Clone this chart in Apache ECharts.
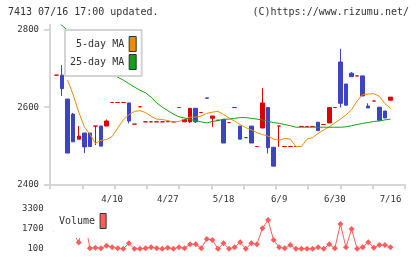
<!DOCTYPE html>
<html>
<head>
<meta charset="utf-8">
<script src="https://cdn.jsdelivr.net/npm/echarts@6/dist/echarts.min.js"></script>
<style>
  html, body { margin: 0; padding: 0; background: #fff; }
  #chart { width: 420px; height: 259px; }
</style>
</head>
<body>
<div id="chart"></div>
<script>
// daily prices, one entry per trading day on screen
const opens = [2683, 2683, 2621, 2582, 2517, 2533, 2533, 2551, 2551, 2551,
  2612, 2612, 2612, 2611, 2556, 2601, 2562, 2562, 2562, 2562,
  2563, 2562, 2599, 2562, 2562, 2597, 2586, 2624, 2571, 2566,
  2568, 2560, 2599, 2551, 2521, 2551, 2498, 2546, 2599, 2496,
  2551, 2498, 2498, 2498, 2550, 2550, 2550, 2561, 2555, 2559,
  2599, 2717, 2660, 2688, 2681, 2681, 2603, 2616, 2600, 2590,
  2618]
const closes = [2683, 2648, 2481, 2510, 2525, 2497, 2498, 2551, 2499, 2564,
  2612, 2612, 2612, 2564, 2556, 2601, 2562, 2562, 2562, 2562,
  2562, 2562, 2599, 2568, 2597, 2562, 2586, 2623, 2577, 2566,
  2507, 2560, 2599, 2517, 2521, 2507, 2498, 2611, 2495, 2447,
  2551, 2498, 2498, 2498, 2550, 2550, 2550, 2539, 2555, 2599,
  2599, 2610, 2605, 2679, 2681, 2629, 2598, 2616, 2566, 2572,
  2626]
const lows = [2683, 2629, 2481, 2510, 2517, 2481, 2498, 2502, 2499, 2551,
  2612, 2612, 2612, 2558, 2556, 2601, 2562, 2562, 2562, 2562,
  2562, 2562, 2599, 2562, 2559, 2559, 2586, 2623, 2549, 2566,
  2507, 2560, 2599, 2517, 2521, 2507, 2498, 2546, 2480, 2447,
  2497, 2498, 2498, 2498, 2550, 2550, 2550, 2539, 2555, 2559,
  2599, 2599, 2605, 2679, 2681, 2629, 2598, 2616, 2566, 2572,
  2618]
const highs = [2683, 2709, 2621, 2585, 2551, 2533, 2533, 2551, 2551, 2568,
  2612, 2612, 2612, 2611, 2556, 2601, 2562, 2562, 2562, 2562,
  2563, 2562, 2599, 2568, 2597, 2597, 2586, 2624, 2577, 2566,
  2568, 2560, 2599, 2551, 2521, 2551, 2498, 2649, 2599, 2496,
  2551, 2498, 2498, 2498, 2550, 2550, 2550, 2561, 2555, 2599,
  2599, 2751, 2660, 2691, 2681, 2681, 2610, 2616, 2600, 2590,
  2626]

// moving averages as drawn
const ma5 = [null, null, 2670, 2632, 2587, 2549, 2530, 2506, 2514, 2516,
  2524, 2546, 2567, 2580, 2589, 2591, 2586, 2576, 2569, 2568,
  2565, 2562, 2563, 2569, 2574, 2574, 2577, 2584, 2587, 2589,
  2581, 2572, 2564, 2555, 2547, 2541, 2534, 2529, 2525, 2517,
  2514, 2519, 2517, 2498, 2498, 2517, 2521, 2532, 2541, 2549,
  2559, 2569, 2580, 2593, 2616, 2633, 2634, 2635, 2628, 2609,
  2597]
const ma25 = [2823, 2812, 2799, 2787, 2774, 2761, 2748, 2735, 2722, 2707,
  2691, 2678, 2670, 2661, 2652, 2644, 2637, 2626, 2611, 2600,
  2591, 2582, 2575, 2572, 2568, 2565, 2562, 2559, 2563, 2565,
  2569, 2569, 2571, 2573, 2573, 2571, 2569, 2567, 2563, 2560,
  2558, 2555, 2552, 2548, 2548, 2548, 2548, 2548, 2548, 2548,
  2548, 2548, 2549, 2552, 2555, 2558, 2560, 2563, 2564, 2567,
  2569]

const volumes = [1500, 1900, 2900, 1400, 600, 2600, 140, 190, 140, 350,
  220, 140, 100, 540, 100, 100, 140, 220, 140, 100,
  190, 100, 220, 140, 460, 460, 140, 880, 800, 100,
  540, 100, 220, 620, 100, 540, 460, 1740, 2400, 800,
  220, 140, 400, 100, 100, 100, 100, 220, 100, 460,
  140, 2080, 220, 1680, 100, 220, 620, 190, 400, 400,
  220]

const tickIdx = [10, 20, 30, 40, 50, 60]
const tickLabels = ['4/10', '4/27', '5/18', '6/9', '6/30', '7/16']
const priceTicks = [2400, 2600, 2800]
const volumeTicks = [100, 1700, 3300]

const UP = '#dc0000'
const DOWN = '#3d44c2'
const ORANGE = '#f08a00'
const GREEN = '#14a014'
const PINK = '#ff5c5c'
const AXIS = '#d6d6d6'
const FONT = 'DejaVu Sans Mono'

const categories = opens.map((_, i) => String(i))
const candles = opens.map((o, i) => {
  const c = closes[i] >= o ? UP : DOWN
  return {
    value: [o, closes[i], lows[i], highs[i]],
    itemStyle: {color: c, color0: c, borderColor: c, borderColor0: c, borderColorDoji: c}
  }
})

const txt = {fontFamily: FONT, fontSize: 10, fontWeight: 'normal', color: '#333'}
const small = {fontFamily: FONT, fontSize: 9, color: '#333'}
const plain = v => String(v)

let myChart = echarts.init(document.getElementById('chart'))

myChart.setOption({
  animation: false,
  title: [
    {text: '7413 07/16 17:00 updated.', left: 8, top: 7, padding: 0, textStyle: txt},
    {text: '(C)https://www.rizumu.net/', right: 11, top: 7, padding: 0, textStyle: txt}
  ],
  legend: [
    {
      data: ['5-day MA', '25-day MA'],
      orient: 'vertical', left: 65, top: 30, align: 'right',
      selectedMode: false,
      backgroundColor: '#fff', borderColor: '#d4d4d4', borderWidth: 2,
      padding: [6, 5, 6, 5],
      itemWidth: 7, itemHeight: 15, itemGap: 2,
      icon: 'rect',
      itemStyle: {borderColor: '#333', borderWidth: 1},
      formatter: n => n.length < 9 ? ' ' + n : n,
      textStyle: txt
    },
    {
      data: ['Volume'],
      left: 54, top: 206, align: 'right',
      selectedMode: false,
      backgroundColor: '#fff',
      padding: [7, 4, 9, 5],
      itemWidth: 6, itemHeight: 15,
      icon: 'rect',
      itemStyle: {borderColor: '#333', borderWidth: 1},
      textStyle: txt
    }
  ],
  grid: [
    {left: 53.7, right: 26.7, top: 25, bottom: 74.7},
    {left: 50, right: 15, top: 25, bottom: 74.7},
    {left: 53.7, right: 26.7, top: 208.8, height: 41.25}
  ],
  xAxis: [
    {
      gridIndex: 0, type: 'category', data: categories, boundaryGap: true,
      axisLine: {show: false}, axisTick: {show: false}, splitLine: {show: false},
      axisLabel: {
        interval: i => tickIdx.includes(i),
        formatter: v => {
          const k = tickIdx.indexOf(+v)
          return k >= 0 ? tickLabels[k] : ''
        },
        margin: 11, ...small
      }
    },
    {
      gridIndex: 1, type: 'value', min: 0, max: 11, interval: 1,
      axisLine: {show: true, onZero: false, lineStyle: {color: AXIS, width: 2}},
      axisTick: {show: true, length: 5, lineStyle: {color: AXIS, width: 2}},
      axisLabel: {show: false}, splitLine: {show: false}
    },
    {gridIndex: 2, type: 'category', data: categories, boundaryGap: true, show: false}
  ],
  yAxis: [
    {gridIndex: 0, type: 'value', min: 2400, max: 2813, show: false, splitLine: {show: false}},
    {
      gridIndex: 1, type: 'value', min: 2400, max: 2813, interval: 200,
      axisLine: {show: true, onZero: false, lineStyle: {color: AXIS, width: 2}},
      axisTick: {show: true, length: 6, customValues: priceTicks, lineStyle: {color: AXIS, width: 2}},
      axisLabel: {customValues: priceTicks, formatter: plain, margin: 11, ...small},
      splitLine: {show: false}
    },
    {
      gridIndex: 2, type: 'value', min: 0, max: 3300,
      axisLine: {show: false}, axisTick: {show: false}, splitLine: {show: false},
      axisLabel: {customValues: volumeTicks, formatter: plain, margin: 10, ...small}
    }
  ],
  series: [
    {
      name: 'price', type: 'candlestick', xAxisIndex: 0, yAxisIndex: 0,
      data: candles, barWidth: 4,
      itemStyle: {borderWidth: 1}
    },
    {
      name: '5-day MA', type: 'line', xAxisIndex: 0, yAxisIndex: 0,
      data: ma5, symbol: 'none', connectNulls: false,
      lineStyle: {color: ORANGE, width: 1}, itemStyle: {color: ORANGE}
    },
    {
      name: '25-day MA', type: 'line', xAxisIndex: 0, yAxisIndex: 0,
      data: ma25, symbol: 'none',
      lineStyle: {color: GREEN, width: 1}, itemStyle: {color: GREEN}
    },
    {
      name: 'Volume', type: 'line', xAxisIndex: 2, yAxisIndex: 2,
      data: volumes, symbol: 'diamond', symbolSize: 6, showAllSymbol: true, clip: false,
      lineStyle: {color: PINK, width: 1}, itemStyle: {color: PINK}
    }
  ]
})

window.onresize = function () {
  myChart.resize()
}
</script>
</body>
</html>
